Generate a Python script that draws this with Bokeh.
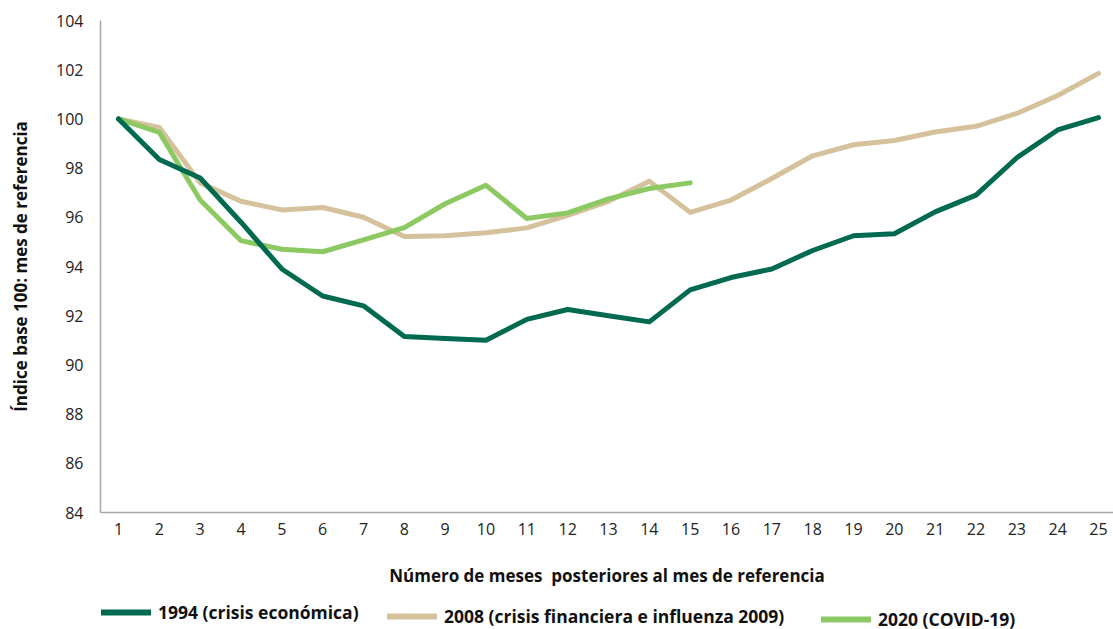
from bokeh.plotting import figure
from bokeh.layouts import column
from bokeh.models import ColumnDataSource, Legend, LegendItem, FixedTicker, Range1d
from bokeh.embed import file_html
from bokeh.resources import INLINE

months = list(range(1, 26))
s1994 = [100.0, 98.35, 97.6, 95.8, 93.9, 92.8, 92.4, 91.15, 91.07, 91.0, 91.85, 92.25, 92.0, 91.75, 93.05,
         93.55, 93.9, 94.65, 95.25, 95.33, 96.22, 96.9, 98.42, 99.55, 100.05]
s2008 = [100.0, 99.65, 97.4, 96.65, 96.3, 96.4, 96.0, 95.22, 95.25, 95.37, 95.57, 96.08, 96.65, 97.47, 96.2,
         96.7, 97.58, 98.5, 98.95, 99.12, 99.47, 99.7, 100.22, 100.95, 101.85]
months2020 = list(range(1, 16))
s2020 = [100.0, 99.45, 96.7, 95.05, 94.7, 94.6, 95.08, 95.58, 96.55, 97.3, 95.95, 96.18, 96.75, 97.17, 97.4]

y_ticks = list(range(84, 105, 2))
labels = ["1994 (crisis económica)", "2008 (crisis financiera e influenza 2009)", "2020 (COVID-19)"]
colors = ["#006A50", "#D5C29C", "#8CC962"]

FONT = "Open Sans"

p = figure(width=1113, height=590, output_backend="svg", toolbar_location=None,
           x_range=Range1d(0.559, 25.367), y_range=Range1d(84, 104),
           min_border_left=100, min_border_top=20, min_border_right=0, min_border_bottom=78)
p.outline_line_color = None
p.xgrid.grid_line_color = None
p.ygrid.grid_line_color = None

src94 = ColumnDataSource(dict(x=months, y=s1994))
src08 = ColumnDataSource(dict(x=months, y=s2008))
src20 = ColumnDataSource(dict(x=months2020, y=s2020))

r08 = p.line("x", "y", source=src08, line_color=colors[1], line_width=5, line_cap="round", line_join="round")
r20 = p.line("x", "y", source=src20, line_color=colors[2], line_width=5, line_cap="round", line_join="round")
r94 = p.line("x", "y", source=src94, line_color=colors[0], line_width=5, line_cap="round", line_join="round")

for ax in (p.xaxis[0], p.yaxis[0]):
    ax.axis_line_color = "#A6A6A6"
    ax.axis_line_width = 1.5
    ax.major_tick_line_color = None
    ax.minor_tick_line_color = None
    ax.major_label_text_font = FONT
    ax.major_label_text_font_size = "16px"
    ax.major_label_text_color = "#222222"
    ax.axis_label_text_font = FONT
    ax.axis_label_text_font_style = "bold"
    ax.axis_label_text_font_size = "17px"
    ax.axis_label_text_color = "#111111"

p.xaxis.ticker = FixedTicker(ticks=months)
p.yaxis.ticker = FixedTicker(ticks=y_ticks)
p.xaxis.major_label_standoff = 4
p.yaxis.major_label_standoff = 11
p.xaxis.axis_label = "Número de meses \u00a0posteriores al mes de referencia"
p.yaxis.axis_label = "Índice base 100: mes de referencia"
p.xaxis.axis_label_standoff = 26
p.yaxis.axis_label_standoff = 21

# legend strip below the chart (its swatch lines are drawn outside the visible range)
lf = figure(width=1113, height=39, output_backend="svg", toolbar_location=None,
            x_axis_type=None, y_axis_type=None,
            x_range=Range1d(0, 1), y_range=Range1d(1000, 1001), min_border=0)
lf.grid.visible = False
lf.outline_line_color = None
keys = [lf.line(xs, ys, line_color=c, line_width=6, line_cap="round")
        for xs, ys, c in zip([months, months, months2020], [s1994, s2008, s2020], colors)]

# column layout aligns this strip's frame with the chart frame (left edge at x=100)
positions = [(1, 5), (287, 1), (721, -2)]
for lab, rend, loc in zip(labels, keys, positions):
    lg = Legend(items=[LegendItem(label=lab, renderers=[rend])], location=loc)
    lg.label_text_font = FONT
    lg.label_text_font_style = "bold"
    lg.label_text_font_size = "17.5px"
    lg.label_text_color = "#111111"
    lg.glyph_width = 50
    lg.glyph_height = 18
    lg.label_standoff = 7
    lg.padding = 0
    lg.margin = 0
    lg.border_line_alpha = 0
    lg.background_fill_alpha = 0
    lf.add_layout(lg, "center")

layout = column(p, lf, spacing=0)
open("out.html", "w").write(file_html(layout, INLINE))
